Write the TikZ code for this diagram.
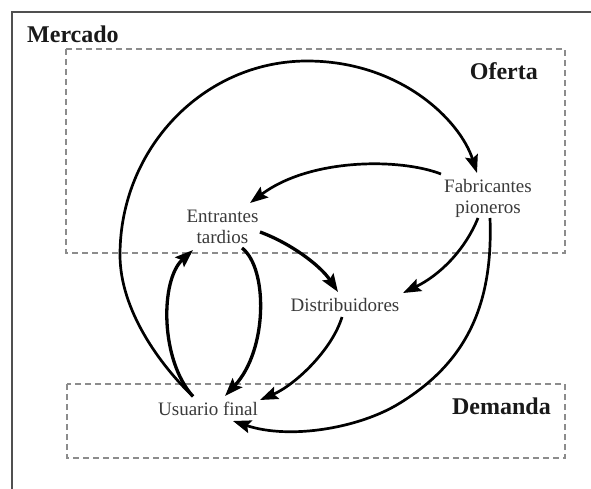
\documentclass[tikz,border=0pt]{standalone}
\usepackage{fontspec}
\setmainfont{Liberation Serif}
\usetikzlibrary{arrows.meta,calc}
\definecolor{txtgray}{HTML}{3A3A3A}
\definecolor{boxgray}{HTML}{8C8C8C}
\definecolor{framegray}{HTML}{505050}
\tikzset{
  actor/.style={font=\fontsize{19}{21}\selectfont, text=txtgray, align=center, inner sep=0pt},
  zone/.style={font=\fontsize{24}{26}\selectfont\bfseries, text=black!90, inner sep=0pt},
  dashbox/.style={draw=boxgray, line width=1.4pt, dash pattern=on 6pt off 4pt},
  flow/.style={draw=black, line width=2.7pt, -{Stealth[length=18pt,width=13pt,inset=3pt]}},
  flowthick/.style={flow, line width=3.3pt}
}
\begin{document}
\begin{tikzpicture}[x=1pt,y=-1pt]
\useasboundingbox (0,0) rectangle (591,489);
\fill[white] (0,0) rectangle (591,489);
% outer frame (cropped at right and bottom)
\draw[framegray, line width=2pt] (12,12) rectangle (620,520);
% dashed zones
\draw[dashbox] (66,49) rectangle (565,253);
\draw[dashbox] (67,384) rectangle (565,458);
% zone labels
\node[zone, anchor=base west] (mercado) at (27,43) {Mercado};
\node[zone, anchor=base east] (oferta) at (538,80) {Oferta};
\node[zone, anchor=base east] (demanda) at (551,414) {Demanda};
% actors
\node[actor] (fp) at (488,198) {Fabricantes\\pioneros};
\node[actor] (et) at (222.5,227) {Entrantes\\tardios};
\node[actor, anchor=base] (di) at (345,311) {Distribuidores};
\node[actor, anchor=base] (uf) at (208,415) {Usuario final};
% connectors
% 1: big outer arc from Usuario final to Fabricantes pioneros
\draw[flow] ($(uf.center)+(-15,-12)$) .. controls (160,365) and (120,310) .. (120,255)
   .. controls (120,148) and (204,61) .. (307,61)
   .. controls (400,61) and (460,120) .. ($(fp.center)+(-11,-25)$);
% 2: Fabricantes -> Entrantes
\draw[flow] ($(fp.center)+(-47,-24)$) .. controls (400,158) and (310,158) .. ($(et.center)+(27.5,-24)$);
% 3: Entrantes -> Distribuidores
\draw[flowthick] ($(et.center)+(37.5,5)$) .. controls (290,243) and (320,265) .. ($(di.base)+(-7,-19)$);
% 4: Fabricantes -> Distribuidores
\draw[flow] ($(fp.center)+(-10,20)$) .. controls (465,250) and (440,275) .. ($(di.base)+(58,-18)$);
% 5: Fabricantes -> Usuario final (outer right arc)
\draw[flow] ($(fp.center)+(2,20)$) .. controls (493,300) and (470,360) .. (400,403)
   .. controls (360,428) and (290,440) .. ($(uf.base)+(25,6)$);
% 6: Distribuidores -> Usuario final
\draw[flow] ($(di.base)+(-3,6)$) .. controls (332,350) and (295,385) .. ($(uf.base)+(52,-15)$);
% 7: Entrantes -> Usuario final (inner right)
\draw[flowthick] ($(et.center)+(19.5,21)$) .. controls (268,268) and (268,350) .. ($(uf.base)+(17,-19)$);
% 8: Usuario final -> Entrantes (inner left)
\draw[flowthick] ($(uf.center)+(-15,-12)$) .. controls (160,360) and (160,280) .. ($(et.center)+(-29.5,23)$);
\end{tikzpicture}
\end{document}
